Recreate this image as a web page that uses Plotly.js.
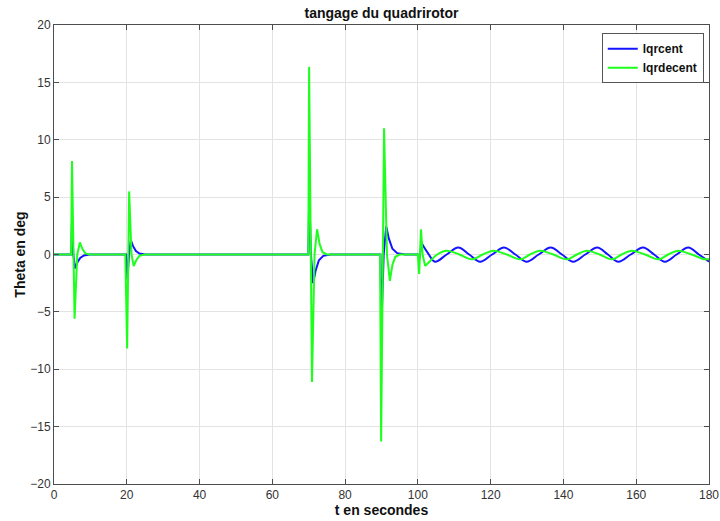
<!DOCTYPE html>
<html>
<head>
<meta charset="utf-8">
<script src="https://cdn.plot.ly/plotly-3.0.1.min.js"></script>
<style>
  html, body { margin: 0; padding: 0; background: #fff; }
  #chart { width: 720px; height: 521px; }
</style>
</head>
<body>
<div id="chart"></div>
<script>
// Pitch angle (deg) of the quadrotor under centralised vs decentralised LQR.

// Transient responses to the disturbances (t in s, theta in deg)
const centT = [0, 4.75, 4.95, 5.3, 5.8, 6.4, 7.2, 8.2, 9.8,
  19.8, 20.2, 20.6, 21.1, 21.7, 22.5, 23.5, 25,
  69.9, 70.15, 70.6, 71.2, 71.9, 72.8, 74, 76,
  89.7, 90.0, 90.6, 91.3, 92.0, 93.0, 94.3, 96.5,
  100.0, 100.4, 101.0];
const centTheta = [0, 0, 2.9, 0, -1.2, -0.7, -0.3, -0.08, 0,
  0, -2.2, 0, 1.25, 0.75, 0.3, 0.08, 0,
  0, 5.5, 0, -2.5, -1.4, -0.5, -0.12, 0,
  0, -6.0, 0, 2.45, 1.4, 0.5, 0.12, 0,
  0, -0.4, 1.0];

const decentT = [0, 4.7, 4.95, 5.65, 6.4, 7.1, 7.8, 8.6, 9.8,
  19.6, 20.1, 20.65, 21.3, 21.9, 22.6, 23.5, 25,
  69.9, 70.1, 70.9, 71.6, 72.3, 73.0, 73.8, 75,
  89.6, 89.9, 90.7, 91.5, 92.3, 93.0, 93.8, 95,
  100.0, 100.35, 100.85, 101.3, 102.0];
const decentTheta = [0, 0, 8.15, -5.6, 0, 1.05, 0.5, 0.1, 0,
  0, -8.2, 5.5, 0, -1.0, -0.5, -0.1, 0,
  0, 16.35, -11.1, 0, 2.2, 0.9, 0.2, 0,
  0, -16.3, 11.0, 0, -2.3, -0.9, -0.2, 0,
  0, -1.7, 2.2, 0, -1.0];

// Sustained oscillation after t = 101 s (peaks, troughs and crossings)
const centOscT = [101.0, 102.8, 104.7, 107.9, 111.1, 114.1, 117.1, 120.4, 123.7,
  126.8, 129.9, 133.2, 136.5, 139.6, 142.7, 146.0, 149.3, 152.2, 155.1,
  158.5, 161.9, 164.9, 167.9, 171.1, 174.3, 177.2, 180];
const centOscTheta = [1.0, 0.1, -0.63, 0, 0.6, 0, -0.63, 0, 0.6,
  0, -0.63, 0, 0.6, 0, -0.63, 0, 0.6, 0, -0.63,
  0, 0.6, 0, -0.63, 0, 0.6, 0, -0.62];

const decentOscT = [102.0, 103.6, 105.3, 107.9, 111.4, 114.8, 117.8, 120.7, 124.4,
  128.1, 130.8, 133.5, 137.2, 140.9, 143.7, 146.4, 149.9, 153.3, 156.0,
  158.7, 162.4, 166.1, 168.8, 171.5, 175.2, 178.9, 180];
const decentOscTheta = [-1.0, -0.5, 0, 0.33, 0, -0.42, 0, 0.33, 0,
  -0.42, 0, 0.33, 0, -0.42, 0, 0.33, 0, -0.42, 0,
  0.33, 0, -0.42, 0, 0.33, 0, -0.42, -0.38];

const seriesNames = ['lqrcent', 'lqrdecent'];
const xTicks = [0, 20, 40, 60, 80, 100, 120, 140, 160, 180];
const yTicks = [-20, -15, -10, -5, 0, 5, 10, 15, 20];

const blue = '#1414ff';
const green = '#1eff1e';

const traces = [
  { x: centT, y: centTheta, name: seriesNames[0], legendgroup: 'c', type: 'scatter', mode: 'lines',
    line: { color: blue, width: 2 } },
  { x: centOscT, y: centOscTheta, name: seriesNames[0], legendgroup: 'c', showlegend: false,
    type: 'scatter', mode: 'lines', line: { color: blue, width: 2, shape: 'spline', smoothing: 1 } },
  { x: decentT, y: decentTheta, name: seriesNames[1], legendgroup: 'd', type: 'scatter', mode: 'lines',
    line: { color: green, width: 2 } },
  { x: decentOscT, y: decentOscTheta, name: seriesNames[1], legendgroup: 'd', showlegend: false,
    type: 'scatter', mode: 'lines', line: { color: green, width: 2, shape: 'spline', smoothing: 1 } }
];

const axisCommon = {
  showline: true, linecolor: '#4d4d4d', linewidth: 1, mirror: 'ticks',
  ticks: 'inside', ticklen: 5, tickcolor: '#4d4d4d', tickwidth: 1,
  showgrid: true, gridcolor: '#e3e3e3', gridwidth: 1, zeroline: false,
  tickfont: { family: 'Liberation Sans, Arial, sans-serif', size: 12, color: '#333' }
};

const layout = {
  width: 720, height: 521,
  margin: { l: 54, r: 11, t: 25, b: 37 },
  paper_bgcolor: '#ffffff', plot_bgcolor: '#ffffff',
  font: { family: 'Liberation Sans, Arial, sans-serif', color: '#262626' },
  title: {
    text: 'tangage du quadrirotor',
    font: { size: 14, weight: 'bold', color: '#111' },
    x: 0.5, xref: 'paper', y: 1 - 13 / 521, yref: 'container', yanchor: 'middle'
  },
  xaxis: Object.assign({}, axisCommon, {
    range: [0, 180], tickvals: xTicks,
    title: { text: 't en secondes', font: { size: 14, weight: 'bold', color: '#111' }, standoff: 3 }
  }),
  yaxis: Object.assign({}, axisCommon, {
    range: [-20, 20], tickvals: yTicks,
    title: { text: 'Theta en deg', font: { size: 14, weight: 'bold', color: '#111' }, standoff: 1 }
  }),
  legend: {
    x: 0.992, xanchor: 'right', y: 0.982, yanchor: 'top',
    bgcolor: '#ffffff', bordercolor: '#555', borderwidth: 1,
    font: { size: 12, weight: 'bold', color: '#111' },
    tracegroupgap: 0, itemwidth: 30
  },
  showlegend: true
};

Plotly.newPlot('chart', traces, layout, { displayModeBar: false, staticPlot: true });
</script>
</body>
</html>
